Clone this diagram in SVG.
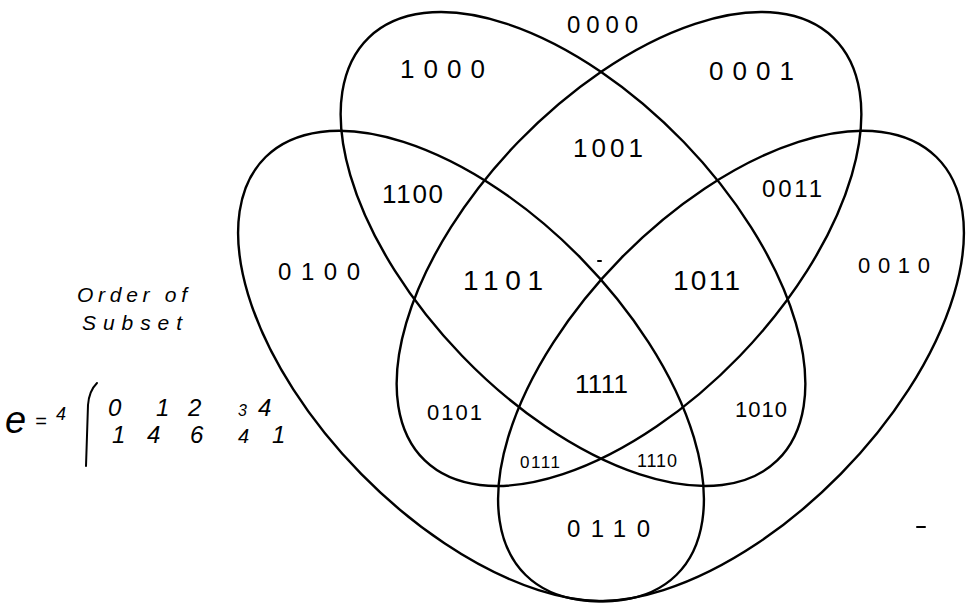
<svg xmlns="http://www.w3.org/2000/svg" width="966" height="603" viewBox="0 0 966 603">
  <style>
    .set { fill: none; stroke: #000; stroke-width: 2.4; }
    .lbl { font-family: "Liberation Sans", Arial, sans-serif; fill: #000; }
    .hand { font-family: "Liberation Sans", Arial, sans-serif; font-style: italic; fill: #000; }
    .mark { stroke: #000; stroke-width: 2; fill: none; stroke-linecap: round; }
  </style>
  <rect width="966" height="603" fill="#fff"/>

  <g id="connectors">
    <ellipse id="set1" class="set" cx="573" cy="249" rx="294" ry="154" transform="rotate(46 573 249)"/>
    <ellipse id="set4" class="set" cx="629" cy="249" rx="294" ry="154" transform="rotate(-46 629 249)"/>
    <ellipse id="set2" class="set" cx="471" cy="366" rx="293" ry="154" transform="rotate(45.5 471 366)"/>
    <ellipse id="set3" class="set" cx="731" cy="366" rx="293" ry="154" transform="rotate(-45.5 731 366)"/>
  </g>

  <g id="region-labels">
    <g id="r0000"><text class="lbl" x="567" y="33" font-size="24" textLength="71" lengthAdjust="spacing">0000</text></g>
    <g id="r1000"><text class="lbl" x="400" y="78" font-size="26" textLength="85" lengthAdjust="spacing">1000</text></g>
    <g id="r0001"><text class="lbl" x="709" y="80" font-size="26" textLength="85" lengthAdjust="spacing">0001</text></g>
    <g id="r1001"><text class="lbl" x="573" y="157" font-size="26" textLength="70" lengthAdjust="spacing">1001</text></g>
    <g id="r1100"><text class="lbl" x="382" y="203" font-size="26" textLength="61" lengthAdjust="spacing">1100</text></g>
    <g id="r0011"><text class="lbl" x="762" y="197" font-size="24" textLength="60" lengthAdjust="spacing">0011</text></g>
    <g id="r0100"><text class="lbl" x="278" y="280" font-size="24" textLength="82" lengthAdjust="spacing">0100</text></g>
    <g id="r1101"><text class="lbl" x="463" y="290" font-size="28" textLength="80" lengthAdjust="spacing">1101</text></g>
    <g id="r1011"><text class="lbl" x="673" y="290" font-size="28" textLength="67" lengthAdjust="spacing">1011</text></g>
    <g id="r0010"><text class="lbl" x="858" y="273" font-size="22" textLength="72" lengthAdjust="spacing">0010</text></g>
    <g id="r1111"><text class="lbl" x="575" y="393" font-size="26" textLength="53" lengthAdjust="spacing">1111</text></g>
    <g id="r0101"><text class="lbl" x="427" y="420" font-size="22" textLength="55" lengthAdjust="spacing">0101</text></g>
    <g id="r1010"><text class="lbl" x="735" y="417" font-size="22" textLength="52" lengthAdjust="spacing">1010</text></g>
    <g id="r0111"><text class="lbl" x="520" y="468" font-size="17" textLength="40" lengthAdjust="spacing">0111</text></g>
    <g id="r1110"><text class="lbl" x="637" y="467" font-size="18" textLength="40" lengthAdjust="spacing">1110</text></g>
    <g id="r0110"><text class="lbl" x="567" y="537" font-size="24" textLength="83" lengthAdjust="spacing">0110</text></g>
  </g>

  <g id="annotation">
    <text class="hand" x="77" y="302" font-size="21" textLength="110" lengthAdjust="spacing">Order of</text>
    <text class="hand" x="82" y="330" font-size="21" textLength="100" lengthAdjust="spacing">Subset</text>
    <text class="hand" x="5" y="433"><tspan font-size="38">e</tspan><tspan x="35" y="428" font-size="20">=</tspan><tspan x="56" y="420" font-size="18">4</tspan></text>
    <path class="mark" d="M97 383 Q89 391 88 405 L86 466"/>
    <text class="hand" y="416" font-size="24"><tspan x="108">0</tspan> <tspan x="156">1</tspan> <tspan x="188">2</tspan> <tspan x="238" font-size="16">3</tspan> <tspan x="258">4</tspan></text>
    <text class="hand" y="443" font-size="24"><tspan x="112">1</tspan> <tspan x="147">4</tspan> <tspan x="190">6</tspan> <tspan x="238" font-size="20">4</tspan> <tspan x="272">1</tspan></text>
  </g>

  <g id="stray-marks">
    <path class="mark" d="M917 527 L925 527"/>
    <path class="mark" d="M598 261 L601 261" stroke-width="1.5"/>
  </g>
</svg>
